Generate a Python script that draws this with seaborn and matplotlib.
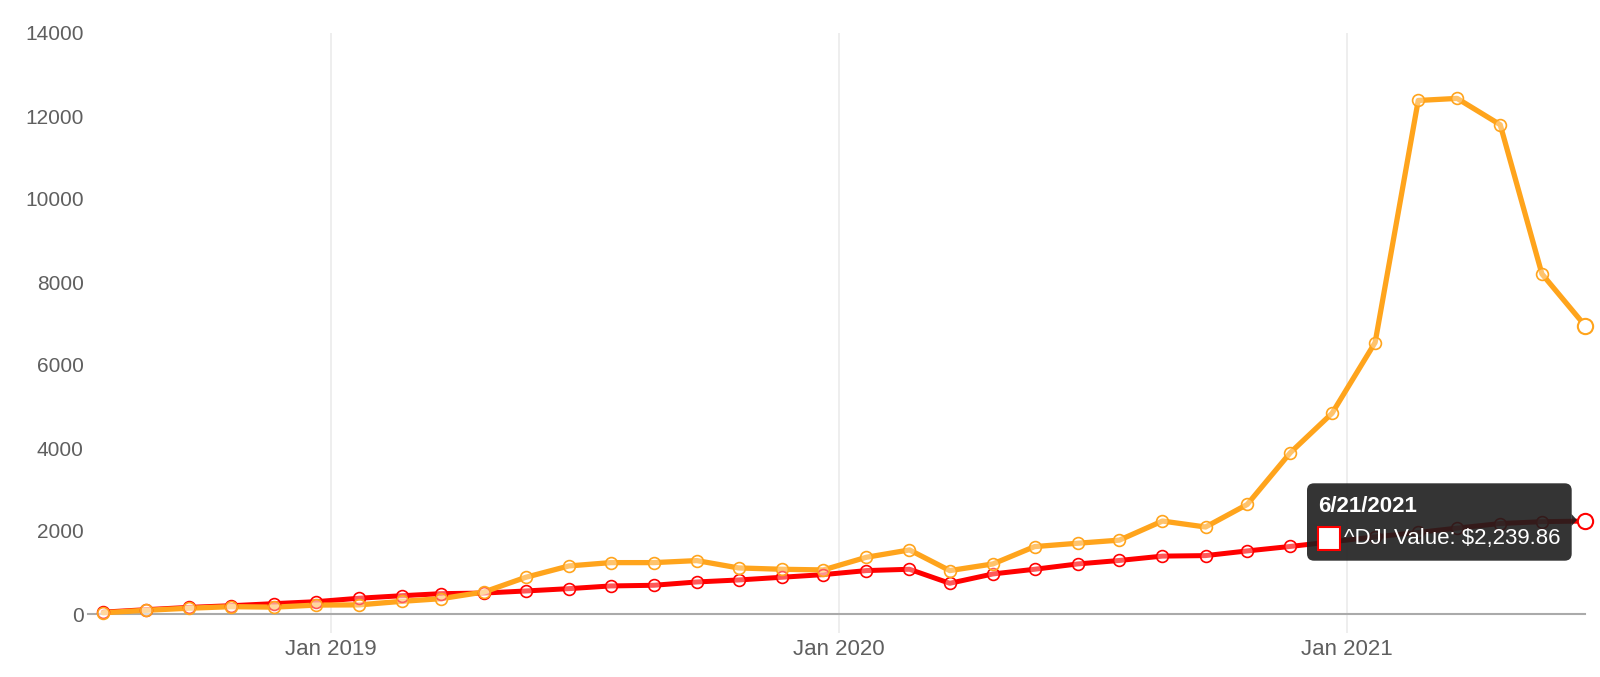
import numpy as np
import pandas as pd
import matplotlib.pyplot as plt
import matplotlib.dates as mdates
from matplotlib.patches import FancyBboxPatch, Polygon, Rectangle
import seaborn as sns

# monthly snapshots, 21st of each month
dates = pd.date_range('2018-07-21', periods=36, freq=pd.DateOffset(months=1))

btc_value = [30, 90, 140, 177, 165, 215, 220, 306, 369, 531, 885, 1158,
             1238, 1238, 1287, 1110, 1078, 1062, 1367, 1544, 1046, 1206, 1624, 1705,
             1780, 2240, 2096, 2640, 3887, 4836, 6542, 12374, 12424, 11790, 8195, 6950]
dji_value = [45, 105, 160, 200, 250, 297, 380, 441, 490, 505, 555, 611,
             676, 692, 772, 820, 885, 949, 1046, 1078, 740, 965, 1078, 1206,
             1290, 1395, 1407, 1520, 1628, 1740, 1860, 1965, 2070, 2180, 2225, 2239.86]

ORANGE = '#ffa41c'
RED = '#ff0000'
GRAY_TXT = '#5f5f5f'

sns.set_theme(style='white')
plt.rcParams['font.family'] = ['Liberation Sans', 'DejaVu Sans']

fig = plt.figure(figsize=(16, 6.77), dpi=100)
ax = fig.add_axes([88 / 1600, 1 - 614 / 677, (1585 - 88) / 1600, (614 - 33) / 677])

# lines first, then the hollow markers on top
sns.lineplot(x=dates, y=dji_value, ax=ax, color=RED, lw=3.6, clip_on=False, zorder=3)
sns.lineplot(x=dates, y=btc_value, ax=ax, color=ORANGE, lw=3.8, clip_on=False, zorder=4)
for vals, c in [(dji_value, RED), (btc_value, ORANGE)]:
    sns.lineplot(x=dates, y=vals, ax=ax, linestyle='none', marker='o', markersize=8.5,
                 markerfacecolor=(1, 1, 1, 0.35), markeredgecolor=c, markeredgewidth=1.2,
                 clip_on=False, zorder=5)
    # hovered point is drawn bigger
    sns.lineplot(x=dates[-1:], y=vals[-1:], ax=ax, linestyle='none', marker='o', markersize=11,
                 markerfacecolor='white', markeredgecolor=c, markeredgewidth=1.5,
                 clip_on=False, zorder=6)

ax.set_xlim(pd.Timestamp('2018-07-10'), dates[-1])
ax.set_ylim(0, 14000)
ax.set_yticks(np.arange(0, 14001, 2000))
ax.xaxis.set_major_locator(mdates.YearLocator())
ax.xaxis.set_major_formatter(mdates.DateFormatter('%b %Y'))
ax.set_xlabel('')
ax.set_ylabel('')

ax.xaxis.grid(True, color='#ebebeb', lw=1.2)
ax.yaxis.grid(False)
ax.tick_params(axis='x', length=14, width=1.2, color='#ebebeb', pad=4,
               labelsize=16, labelcolor=GRAY_TXT, bottom=True)
ax.tick_params(axis='y', length=0, pad=3, labelsize=15, labelcolor=GRAY_TXT)
for s in ['left', 'top', 'right']:
    ax.spines[s].set_visible(False)
ax.spines['bottom'].set_color('#aaaaaa')
ax.spines['bottom'].set_linewidth(1.5)

# hover tooltip (pixel positions -> inches)
tr = fig.dpi_scale_trans
H = 6.77
box = FancyBboxPatch((13.07, H - 5.607), 2.647, 0.774,
                     boxstyle='round,pad=0,rounding_size=0.07',
                     transform=tr, fc='#1e1e1e', ec='none', alpha=0.9, zorder=10)
fig.add_artist(box)
notch = Polygon([(15.715, H - 5.14), (15.77, H - 5.20), (15.715, H - 5.26)], closed=True,
                transform=tr, fc='#1e1e1e', ec='none', alpha=0.9, zorder=10)
fig.add_artist(notch)
fig.add_artist(Rectangle((13.18, H - 5.50), 0.22, 0.227, transform=tr,
                         fc='white', ec=RED, lw=1.5, zorder=11))
fig.text(13.18, H - 5.117, f"{dates[-1].month}/{dates[-1].day}/{dates[-1].year}",
         transform=tr, color='white', fontsize=16, fontweight='bold', zorder=12)
fig.text(13.44, H - 5.44, f"^DJI Value: ${dji_value[-1]:,.2f}",
         transform=tr, color='white', fontsize=16, zorder=12)

plt.savefig('out.png', dpi=100)
